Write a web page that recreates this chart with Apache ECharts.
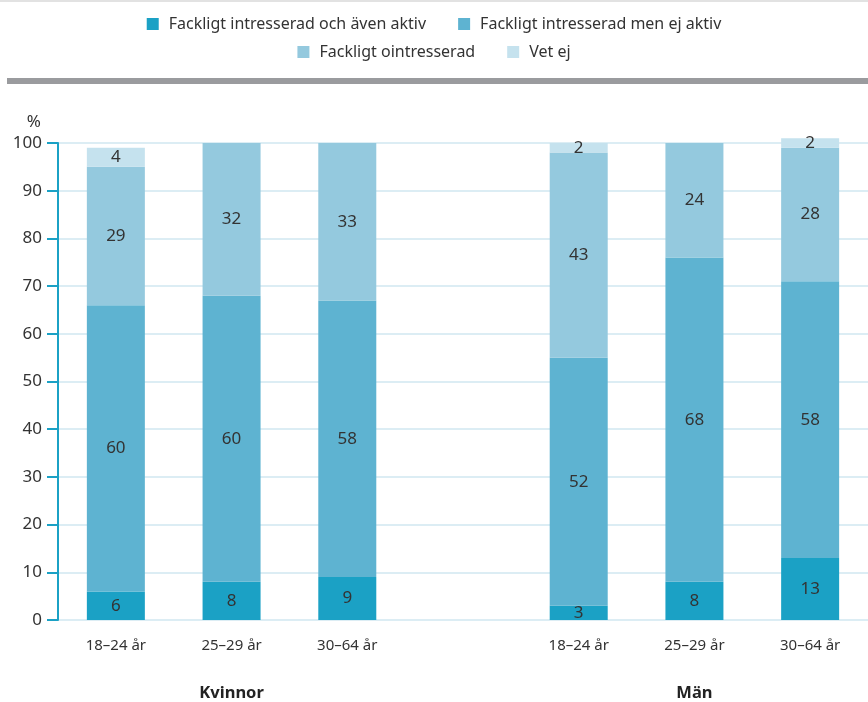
<!DOCTYPE html>
<html><head><meta charset="utf-8">
<script src="https://cdn.jsdelivr.net/npm/echarts@6/dist/echarts.min.js"></script>
<style>html,body{margin:0;padding:0;background:#fff}#c{width:868px;height:702px}</style>
</head><body><div id="c"></div>
<script>
var categories = ['18–24 år','25–29 år','30–64 år','','18–24 år','25–29 år','30–64 år'];
var groups = ['','Kvinnor','','','','Män',''];
var seriesNames = ['Fackligt intresserad och även aktiv','Fackligt intresserad men ej aktiv','Fackligt ointresserad','Vet ej'];
var aktiv = [6,8,9,null,3,8,13];
var ejAktiv = [60,60,58,null,52,68,58];
var ointresserad = [29,32,33,null,43,24,28];
var vetEj = [4,null,null,null,2,null,2];

var colors = ['#1ba1c5','#5eb3d1','#94c9de','#c5e2ee'];
var font = 'Noto Sans';
var values = [aktiv, ejAktiv, ointresserad, vetEj];
var chart = echarts.init(document.getElementById('c'));
var legendText = {fontSize:16,color:'#333',fontFamily:font,padding:[0,0,0,5]};
chart.setOption({
  animation:false,
  textStyle:{fontFamily:font},
  legend:[{
    data:[seriesNames[0],seriesNames[1]], top:11, left:'center', itemWidth:12, itemHeight:12, itemGap:32, icon:'rect',
    textStyle:legendText
  },{
    data:[seriesNames[2],seriesNames[3]], top:39, left:'center', itemWidth:12, itemHeight:12, itemGap:32, icon:'rect',
    textStyle:legendText
  }],
  graphic:[
    {type:'rect',shape:{x:0,y:0,width:868,height:2},style:{fill:'#e2e2e2'}},
    {type:'rect',shape:{x:7,y:78,width:861,height:6},style:{fill:'#9a9b9e'}}
  ],
  grid:{left:58,right:-4,top:143,bottom:80.5},
  xAxis:[{
    type:'category', data:categories,
    axisLine:{show:false}, axisTick:{show:false},
    axisLabel:{fontSize:15,color:'#333',margin:18,interval:0}
  },{
    type:'category', data:groups, position:'bottom', offset:57,
    axisLine:{show:false}, axisTick:{show:false}, splitLine:{show:false},
    axisLabel:{fontSize:16.5,fontWeight:'bold',color:'#222',margin:8,interval:0}
  }],
  yAxis:{
    type:'value', min:0, max:100, interval:10,
    name:'%', nameLocation:'end', nameGap:12,
    nameTextStyle:{fontSize:17,color:'#333',align:'right',padding:[0,17,0,0]},
    axisLine:{show:true,lineStyle:{color:'#1ba1c5',width:2}},
    axisTick:{show:true,length:11,lineStyle:{color:'#1ba1c5',width:2}},
    axisLabel:{fontSize:17,color:'#333',margin:16},
    splitLine:{show:true,lineStyle:{color:'#dcedf4',width:2}}
  },
  series: values.map(function(v,i){
    return {
      name:seriesNames[i], type:'bar', stack:'s', data:v, barWidth:58, clip:false,
      itemStyle:{color:colors[i]},
      label:{show:true,position:'inside',fontSize:17,color:'#333',fontFamily:font},
      xAxisIndex:0
    };
  })
});
</script></body></html>
